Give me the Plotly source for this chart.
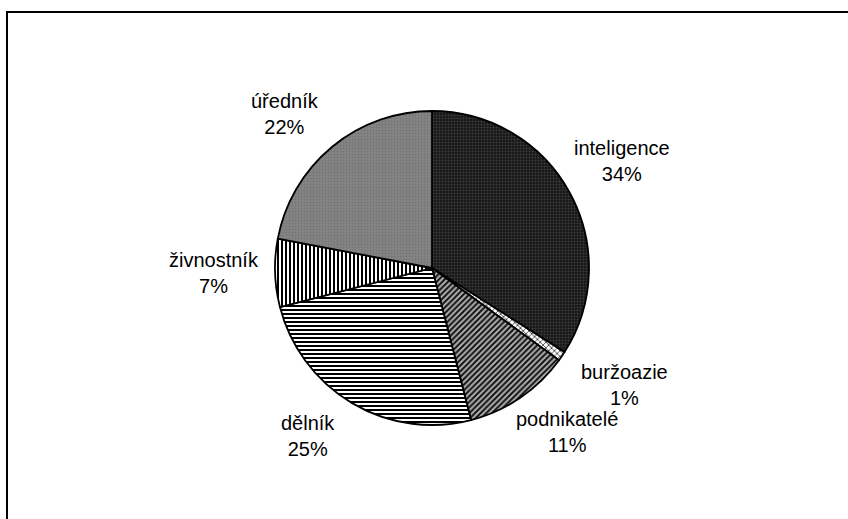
import math
import plotly.graph_objects as go

labels = ["inteligence", "buržoazie", "podnikatelé", "dělník", "živnostník", "úředník"]
values = [34, 1, 11, 25, 7, 22]

W, H = 848, 519
cx, cy, r = 432, 251, 157  # pie centre (from bottom) and radius in px

bg = ["#161616", "#ffffff", "#b0b0b0", "#ffffff", "#ffffff", "#858585"]
fg = ["#3c3c3c", "#000000", "#111111", "#000000", "#000000", "#747474"]
shape = [".", "x", "/", "-", "|", "."]
size = [3, 4, 4, 4, 4, 3]
solid = [0.4, 0.3, 0.5, 0.5, 0.5, 0.3]

fig = go.Figure(go.Pie(
    labels=labels, values=values, sort=False, direction="clockwise", rotation=0,
    textinfo="none", hoverinfo="label+percent",
    marker=dict(colors=bg, line=dict(color="#000000", width=1.8),
                pattern=dict(shape=shape, fgcolor=fg, bgcolor=bg, size=size, solidity=solid,
                             fillmode="replace")),
    domain=dict(x=[(cx - r) / W, (cx + r) / W], y=[(cy - r) / H, (cy + r) / H]),
    showlegend=False,
))

# label placement: distance from centre (px) and angular nudge (deg) per label
dist = [218, 225, 212, 209, 218, 213]
nudge = [-0.6, -2.8, -5.3, 5.7, 0.5, -4.1]

total = sum(values)
acc = 0
for lab, v, d, nd in zip(labels, values, dist, nudge):
    mid = (acc + v / 2) / total * 2 * math.pi + math.radians(nd)
    acc += v
    x = (cx + d * math.sin(mid)) / W
    y = (cy + d * math.cos(mid)) / H
    fig.add_annotation(x=x, y=y, xref="paper", yref="paper", showarrow=False,
                       xanchor="center", yanchor="middle",
                       text=f"{lab}<br>{round(v / total * 100)}%", align="center",
                       font=dict(family="Liberation Sans, Arial", size=20, color="#000000"))

fig.add_shape(type="rect", xref="paper", yref="paper",
              x0=7 / W, x1=1.02, y0=-0.02, y1=(H - 12) / H,
              line=dict(color="#000000", width=2))

fig.update_layout(width=W, height=H, margin=dict(l=0, r=0, t=0, b=0),
                  paper_bgcolor="#ffffff", plot_bgcolor="#ffffff")
fig.write_html("out.html", config={"displayModeBar": False},
               post_script="document.body.style.margin='0';document.body.style.overflow='hidden';")
